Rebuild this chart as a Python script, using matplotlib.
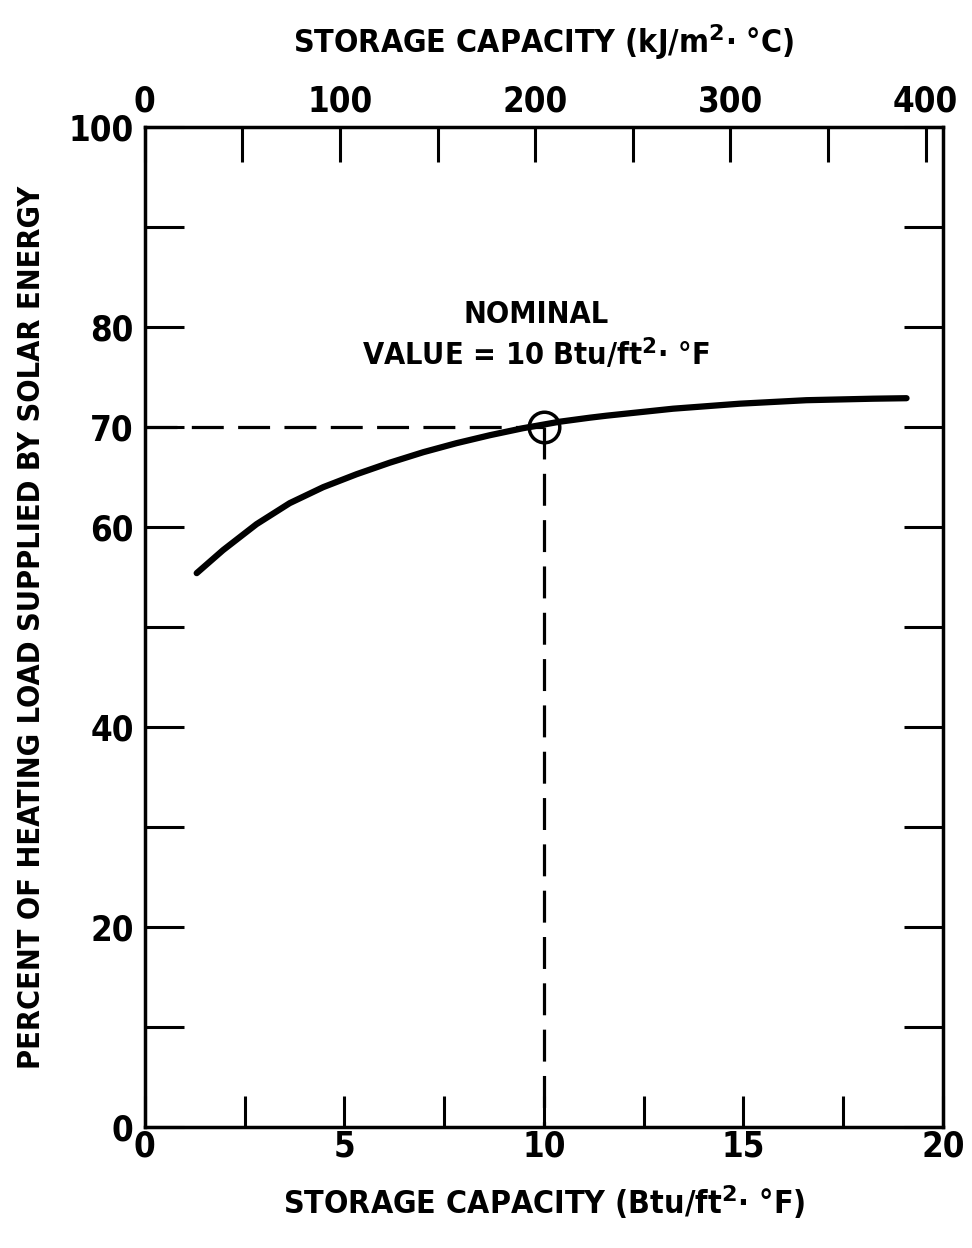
import matplotlib
matplotlib.use("Agg")
import matplotlib.pyplot as plt
import numpy as np

# Data
storage_btu = [1.30, 1.96, 2.80, 3.63, 4.47, 5.31, 6.14, 6.98, 7.81, 8.65, 9.48,
               10.4, 11.15, 11.57, 13.24, 14.91, 16.58, 18.25, 19.09]
percent_solar = [55.4, 57.7, 60.3, 62.4, 64.0, 65.3, 66.45, 67.5, 68.4, 69.2, 69.9,
                 70.55, 70.95, 71.15, 71.85, 72.35, 72.7, 72.85, 72.9]
nominal_x = 10
nominal_y = 70
y_tick_labels = {0: "0", 20: "20", 40: "40", 60: "60", 70: "70", 80: "80", 100: "100"}
top_ticks_major = [0, 100, 200, 300, 400]
kj_per_btu = 20.44

plt.rcParams["mathtext.fontset"] = "custom"
plt.rcParams["mathtext.bf"] = "DejaVu Sans:bold"
plt.rcParams["mathtext.rm"] = "DejaVu Sans:bold"

font = dict(family="DejaVu Sans", stretch="condensed", weight="bold")
SUP = r"$^{\mathbf{2}}$"

fig = plt.figure(figsize=(9.72, 12.48), dpi=100)
ax = fig.add_axes([0.149, 0.097, 0.821, 0.801])

ax.plot(storage_btu, percent_solar, color="black", lw=4.5, solid_capstyle="round",
        solid_joinstyle="round")
ax.plot([0, nominal_x], [nominal_y, nominal_y], color="black", lw=2.3, dashes=(10, 4.5))
ax.plot([nominal_x, nominal_x], [nominal_y, 0], color="black", lw=2.3, dashes=(10, 4.5))
ax.plot([nominal_x], [nominal_y], marker="o", ms=22, mfc="none", mec="black", mew=2.5)

ax.text(9.8, 81.3, "NOMINAL", ha="center", va="center", fontsize=22, **font)
ax.text(9.8, 77.4, "VALUE = 10 Btu/ft" + SUP + "· °F", ha="center", va="center",
        fontsize=22, **font)

ax.set_xlim(0, 20)
ax.set_ylim(0, 100)
ax.set_xticks([0, 5, 10, 15, 20])
ax.set_xticks([2.5, 7.5, 12.5, 17.5], minor=True)
ax.set_xticklabels(["0", "5", "10", "15", "20"], fontsize=25, **font)
ax.set_yticks(np.arange(0, 101, 10))
ax.set_yticklabels([y_tick_labels.get(v, "") for v in range(0, 101, 10)], fontsize=25, **font)
ax.tick_params(axis="x", which="both", direction="in", length=22, width=2.2, pad=2)
ax.tick_params(axis="y", which="both", direction="in", length=28, width=2.2, pad=8,
               right=True)
for s in ax.spines.values():
    s.set_linewidth(2.5)

ax.set_xlabel("STORAGE CAPACITY (Btu/ft" + SUP + "· °F)", fontsize=23, labelpad=14, **font)
ax.set_ylabel("PERCENT OF HEATING LOAD SUPPLIED BY SOLAR ENERGY", fontsize=22, labelpad=16, **font)

sec = ax.secondary_xaxis("top", functions=(lambda x: x * kj_per_btu, lambda k: k / kj_per_btu))
sec.set_xticks(top_ticks_major)
sec.set_xticks([50, 150, 250, 350], minor=True)
sec.set_xticklabels([str(v) for v in top_ticks_major], fontsize=25, **font)
sec.tick_params(axis="x", which="both", direction="in", length=25, width=2.2, pad=6)
sec.set_xlabel("STORAGE CAPACITY (kJ/m" + SUP + "· °C)", fontsize=23, labelpad=23, **font)

fig.savefig("out.png", dpi=100, facecolor="white")
